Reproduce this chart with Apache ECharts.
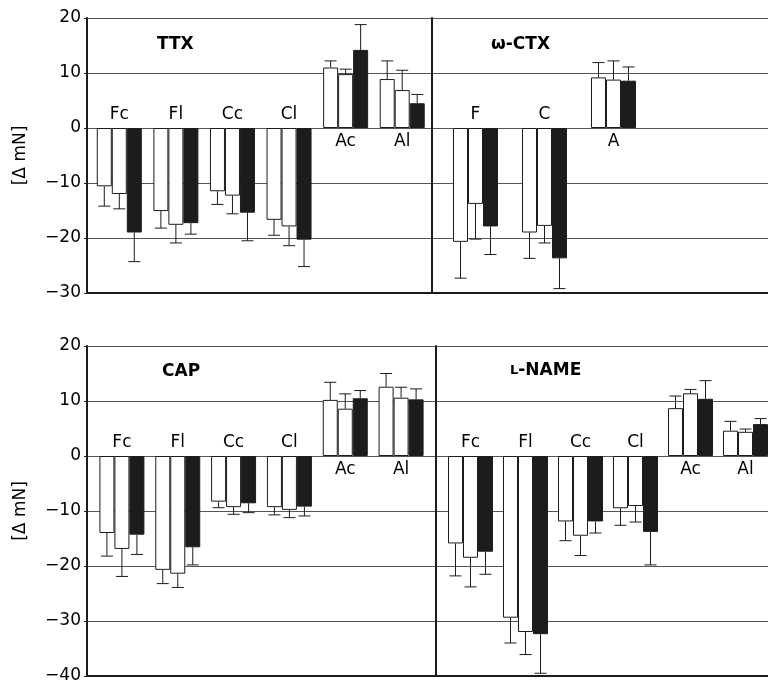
<!DOCTYPE html>
<html><head><meta charset="utf-8">
<script src="https://cdn.jsdelivr.net/npm/echarts@6/dist/echarts.min.js"></script>
<style>html,body{margin:0;padding:0;background:#fff}#c{width:768px;height:680px}</style>
</head><body><div id="c"></div>
<script>
// ---------- data ----------
const sixCats = ['Fc', 'Fl', 'Cc', 'Cl', 'Ac', 'Al'];
const ctxCats = ['F', 'C', 'A'];

// TTX
const ttx1 = [-10.6, -15.1, -11.5, -16.7, 11.0, 8.9];
const ttx2 = [-12.0, -17.6, -12.3, -17.9, 9.8, 6.9];
const ttx3 = [-19.0, -17.3, -15.4, -20.3, 14.2, 4.5];
const ttx1Sd = [3.6, 3.1, 2.4, 2.8, 1.2, 3.3];
const ttx2Sd = [2.7, 3.3, 3.3, 3.5, 0.9, 3.6];
const ttx3Sd = [5.3, 2.0, 5.1, 4.9, 4.6, 1.6];

// omega-CTX
const ctx1 = [-20.7, -19.0, 9.2];
const ctx2 = [-13.8, -17.8, 8.8];
const ctx3 = [-17.9, -23.7, 8.6];
const ctx1Sd = [6.6, 4.7, 2.7];
const ctx2Sd = [6.4, 3.1, 3.4];
const ctx3Sd = [5.1, 5.5, 2.5];

// CAP
const cap1 = [-14.0, -20.7, -8.3, -9.3, 10.2, 12.6];
const cap2 = [-16.9, -21.4, -9.3, -9.8, 8.6, 10.6];
const cap3 = [-14.3, -16.6, -8.6, -9.2, 10.5, 10.3];
const cap1Sd = [4.2, 2.5, 1.1, 1.4, 3.2, 2.4];
const cap2Sd = [5.0, 2.5, 1.3, 1.4, 2.7, 1.9];
const cap3Sd = [3.6, 3.2, 1.7, 1.7, 1.4, 1.9];

// L-NAME
const nam1 = [-15.9, -29.4, -11.9, -9.5, 8.7, 4.6];
const nam2 = [-18.5, -32.0, -14.5, -9.1, 11.4, 4.4];
const nam3 = [-17.4, -32.4, -11.9, -13.8, 10.4, 5.8];
const nam1Sd = [5.9, 4.6, 3.5, 3.1, 2.2, 1.7];
const nam2Sd = [5.3, 4.1, 3.6, 2.9, 0.7, 0.5];
const nam3Sd = [4.1, 7.1, 2.1, 6.0, 3.3, 1.0];

const topRange = [-30, 20];
const bottomRange = [-40, 20];
const yTickStep = 10;
const yName = '[\u0394 mN]';

// ---------- styling ----------
const FONT = 'DejaVu Sans';
const INK = '#1c1c1c';
const BW = 15;   // bar width (px)
const CAP = 12;  // error cap width (px)

const panels = [
  { title: 'TTX', cats: sixCats, vals: [ttx1, ttx2, ttx3], sds: [ttx1Sd, ttx2Sd, ttx3Sd], range: topRange,
    frame: { left: 87, top: 18, width: 345, height: 275 }, bars: { left: 91, width: 339.5 }, side: 'left', tpos: [157, 36] },
  { title: '\u03c9-CTX', cats: ctxCats, vals: [ctx1, ctx2, ctx3], sds: [ctx1Sd, ctx2Sd, ctx3Sd], range: topRange,
    frame: { left: 432, top: 18, width: 360, height: 275 }, bars: { left: 441, width: 207 }, side: 'right', tpos: [491, 36] },
  { title: 'CAP', cats: sixCats, vals: [cap1, cap2, cap3], sds: [cap1Sd, cap2Sd, cap3Sd], range: bottomRange,
    frame: { left: 87, top: 346, width: 349, height: 330 }, bars: { left: 94, width: 335 }, side: 'left', tpos: [162, 363] },
  { title: '{s|L}-NAME', cats: sixCats, vals: [nam1, nam2, nam3], sds: [nam1Sd, nam2Sd, nam3Sd], range: bottomRange,
    frame: { left: 436, top: 346, width: 360, height: 330 }, bars: { left: 443, width: 330 }, side: 'right', tpos: [510, 362] }
];

const grids = [], xAxes = [], yAxes = [], series = [], titles = [];

function fmtY(v) { return v < 0 ? '\u2212' + Math.abs(v) : String(v); }

function errRender(params, api) {
  const cat = api.value(0), k = api.value(1), v = api.value(2), e = api.value(3);
  const p0 = api.coord([cat, v]);
  const p1 = api.coord([cat, e]);
  const x = p0[0] + (k - 1) * BW;
  return {
    type: 'group',
    children: [
      { type: 'line', shape: { x1: x, y1: p0[1], x2: x, y2: p1[1] }, style: { stroke: INK, lineWidth: 1 } },
      { type: 'line', shape: { x1: x - CAP / 2, y1: p1[1], x2: x + CAP / 2, y2: p1[1] }, style: { stroke: INK, lineWidth: 1 } }
    ]
  };
}

panels.forEach((p, i) => {
  const fi = 2 * i, bi = 2 * i + 1;
  grids.push(Object.assign({ containLabel: false, outerBoundsMode: 'none' }, p.frame));
  grids.push({ containLabel: false, outerBoundsMode: 'none', left: p.bars.left, width: p.bars.width, top: p.frame.top, height: p.frame.height });

  // frame axes
  xAxes.push({ gridIndex: fi, type: 'category', data: [''], axisLine: { show: true, onZero: false, lineStyle: { color: INK, width: 2 } },
    axisTick: { show: false }, axisLabel: { show: false }, splitLine: { show: false } });
  yAxes.push({ gridIndex: fi, type: 'value', min: p.range[0], max: p.range[1], interval: yTickStep,
    axisLine: { show: true, lineStyle: { color: INK, width: 2 } },
    axisTick: { show: p.side === 'left', length: 3, lineStyle: { color: INK, width: 1 } },
    axisLabel: { show: p.side === 'left', formatter: fmtY, fontFamily: FONT, fontSize: 17, color: '#000', margin: 6 },
    splitLine: { show: true, lineStyle: { color: '#555', width: 1 } },
    name: p.side === 'left' ? yName : '', nameLocation: 'middle', nameGap: 58,
    nameTextStyle: { fontFamily: FONT, fontSize: 17, color: '#000' } });

  // bar axes (hidden)
  xAxes.push({ gridIndex: bi, type: 'category', data: p.cats, show: false });
  yAxes.push({ gridIndex: bi, type: 'value', min: p.range[0], max: p.range[1], interval: yTickStep, show: false, splitLine: { show: false } });

  p.vals.forEach((vals, k) => {
    series.push({ type: 'bar', xAxisIndex: bi, yAxisIndex: bi, data: vals, barWidth: BW, barGap: '0%',
      itemStyle: { color: k < 2 ? '#ffffff' : INK, borderColor: INK, borderWidth: 1 }, silent: true, z: 3 });
  });

  const errData = [];
  p.vals.forEach((vals, k) => {
    vals.forEach((v, c) => {
      const sd = p.sds[k][c];
      errData.push([c, k, v, v < 0 ? v - sd : v + sd]);
    });
  });
  series.push({ type: 'custom', xAxisIndex: bi, yAxisIndex: bi, data: errData, renderItem: errRender,
    encode: { x: 0, y: [2, 3] }, clip: false, silent: true, z: 4 });

  series.push({ type: 'scatter', xAxisIndex: bi, yAxisIndex: bi, symbolSize: 0, silent: true, z: 5,
    itemStyle: { opacity: 1, color: '#000' },
    data: p.cats.map((c, ci) => ({ name: c, value: [ci, 0],
      label: { position: p.vals[1][ci] < 0 ? 'top' : 'bottom' } })),
    label: { show: true, formatter: '{b}', fontFamily: FONT, fontSize: 17, color: '#000', opacity: 1, distance: 5 } });

  titles.push({ text: p.title, left: p.tpos[0], top: p.tpos[1], padding: 0,
    textStyle: { fontFamily: FONT, fontSize: 17, fontWeight: 'bold', color: '#000',
      rich: { s: { fontFamily: FONT, fontSize: 13, fontWeight: 'bold', color: '#000' } } } });
});

const chart = echarts.init(document.getElementById('c'), null, { renderer: 'canvas' });
chart.setOption({
  animation: false,
  backgroundColor: '#ffffff',
  title: titles,
  grid: grids,
  xAxis: xAxes,
  yAxis: yAxes,
  series: series
});
</script>
</body></html>
